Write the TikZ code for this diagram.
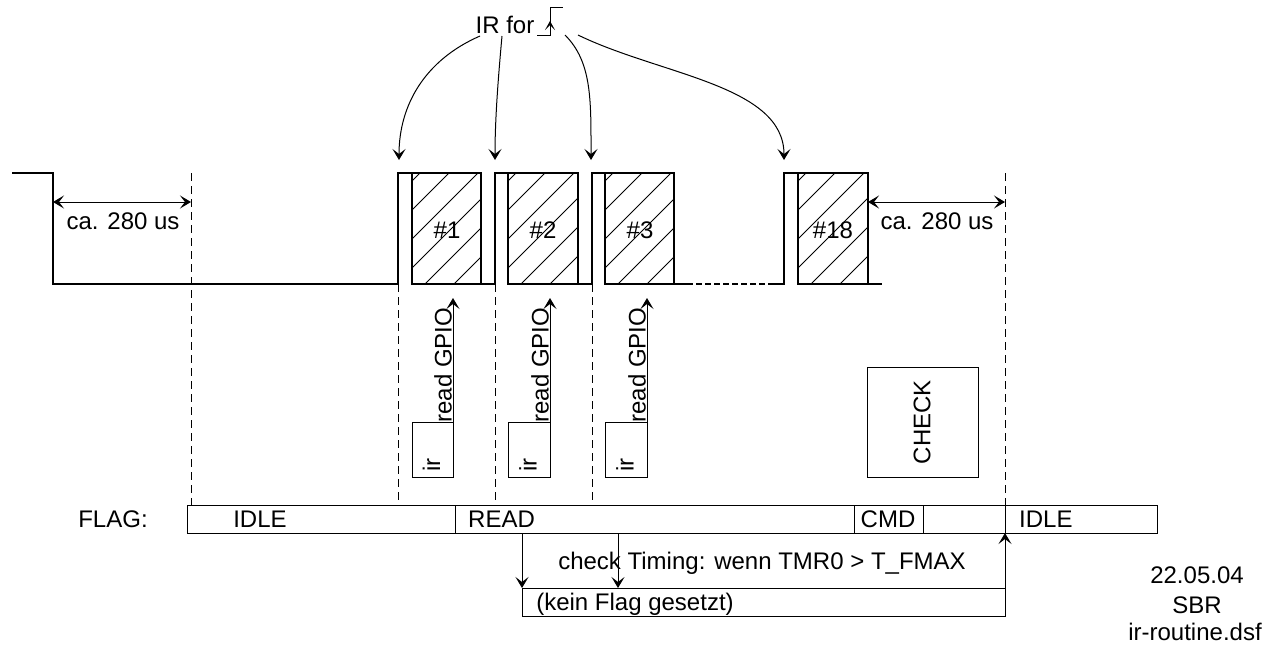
\documentclass[tikz,border=0pt]{standalone}
\usepackage{fontspec}
\setmainfont{Liberation Sans}
\usetikzlibrary{arrows.meta}
\newcommand\myhatch[2]{%
  \begin{scope}
    \clip (#1,173) rectangle (#2,284);
    \foreach \k in {0,...,7} \draw[hatchline] ({#1-111+\k*29+8},284) -- ++(111,-111);
  \end{scope}}
\begin{document}
\begin{tikzpicture}[x=1pt,y=-1pt,
  font=\fontsize{24}{28}\selectfont,
  sig/.style={line width=2pt},
  thinline/.style={line width=1pt},
  hatchline/.style={line width=0.8pt},
  dashline/.style={line width=1pt, dash pattern=on 8pt off 5pt},
  tip/.style={Stealth[length=11pt,width=13pt,inset=5pt]},
  arr/.style={line width=1pt,-{Stealth[length=11pt,width=13pt,inset=5pt]}},
  darr/.style={line width=1pt,{Stealth[length=11pt,width=13pt,inset=5pt]}-{Stealth[length=11pt,width=13pt,inset=5pt]}},
  txt/.style={inner sep=1pt}]
\useasboundingbox (0,0) rectangle (1282,646);

% ---- signal ----
\draw[sig] (12,173) -- (53,173) -- (53,284) -- (398,284) -- (398,173) -- (481,173) -- (481,284)
  -- (495,284) -- (495,173) -- (578,173) -- (578,284) -- (592,284) -- (592,173) -- (674,173)
  -- (674,284) -- (687,284);
\draw[sig, dash pattern=on 6pt off 3pt] (687,284) -- (770,284);
\draw[sig] (770,284) -- (784,284) -- (784,173) -- (868,173) -- (868,284) -- (882,284);

% hatched boxes
\myhatch{412}{481}
\myhatch{508}{578}
\myhatch{605}{674}
\myhatch{798}{868}
\draw[sig] (412,173) -- (412,284) -- (481,284);
\draw[sig] (508,173) -- (508,284) -- (578,284);
\draw[sig] (605,173) -- (605,284) -- (674,284);
\draw[sig] (798,173) -- (798,284) -- (868,284);
\node[txt] (b1) at (447,230) {\#1};
\node[txt] (b2) at (543,230) {\#2};
\node[txt] (b3) at (640,230) {\#3};
\node[txt] (b18) at (833,230) {\#18};

% ---- dashed guide lines ----
\draw[dashline] (191,173) -- (191,505);
\draw[dashline] (398,284) -- (398,505);
\draw[dashline] (495,284) -- (495,505);
\draw[dashline] (592,284) -- (592,505);
\draw[dashline] (1005,173) -- (1005,505);

% ---- ca. 280 us ----
\coordinate (la) at (53,202);
\coordinate (lb) at (191,202);
\draw[darr] (la) -- (lb);
\node[txt] (ca1) at (123,221) {ca. 280 us};
\coordinate (ra) at (868,202);
\coordinate (rb) at (1005,202);
\draw[darr] (ra) -- (rb);
\node[txt] (ca2) at (937,221) {ca. 280 us};

% ---- IR for ----
\node[txt] (ir) at (505,25) {IR for};
\draw[thinline] (537,35) -- (550,35) -- (550,7) -- (563,7);
\draw[thinline,-{Stealth[length=9pt,width=10pt,inset=5pt]}] (550,35) -- (550,21);
\coordinate (s1) at (480,36);
\coordinate (s2) at (502,36);
\coordinate (s3) at (565,35);
\coordinate (s4) at (578,35);
\coordinate (t1) at (399,160);
\coordinate (t2) at (495,160);
\coordinate (t3) at (591,160);
\coordinate (t4) at (784,160);
\draw[arr] (s1) .. controls (425,60) and (399,105) .. (t1);
\draw[arr] (s2) .. controls (498,80) and (495,120) .. (t2);
\draw[arr] (s3) .. controls (592,62) and (591,100) .. (t3);
\draw[arr] (s4) .. controls (660,75) and (784,85) .. (t4);

% ---- read GPIO / ir ----
\foreach \xl/\xr/\nm in {412/453/a, 508/550/b, 605/647/c}{
  \draw[thinline] (\xl,422) rectangle (\xr,477);
  \node[txt,rotate=90] (ir\nm) at ({(\xl+\xr)/2-1},465) {ir};
  \coordinate (g\nm1) at (\xr,422);
  \coordinate (g\nm2) at (\xr,298);
  \draw[arr] (g\nm1) -- (g\nm2);
  \node[txt,rotate=90,anchor=south] (rg\nm) at (\xr,365) {read GPIO};
}

% ---- CHECK ----
\draw[thinline] (867,367) rectangle (978,477);
\node[txt,rotate=90] (check) at (922,422) {CHECK};

% ---- FLAG bar ----
\node[txt] (flag) at (113,519) {FLAG:};
\draw[thinline] (187,505) rectangle (1157,533);
\draw[thinline] (455,505) -- (455,533);
\draw[thinline] (854,505) -- (854,533);
\draw[thinline] (923,505) -- (923,533);
\draw[thinline] (1005,505) -- (1005,533);
\node[txt] (idle1) at (260,519) {IDLE};
\node[txt,anchor=west] (read) at (467,519) {READ};
\node[txt] (cmd) at (888,519) {CMD};
\node[txt,anchor=west] (idle2) at (1018,519) {IDLE};

% ---- check timing ----
\coordinate (c1) at (522,533);
\coordinate (c1b) at (522,588);
\coordinate (c2) at (618,533);
\coordinate (c2b) at (618,588);
\coordinate (c3) at (1005,588);
\coordinate (c3b) at (1005,533);
\draw[arr] (c1) -- (c1b);
\draw[arr] (c2) -- (c2b);
\draw[thinline] (522,588) rectangle (1005,616);
\draw[arr] (c3) -- (c3b);
\node[txt] (chk) at (762,563) {check Timing: wenn TMR0 > T\_FMAX};
\node[txt] (kein) at (635,604) {(kein Flag gesetzt)};

% ---- footer ----
\node[txt] (date) at (1197,575) {22.05.04};
\node[txt] (sbr) at (1197,605) {SBR};
\node[txt] (file) at (1195,632) {ir-routine.dsf};
\end{tikzpicture}
\end{document}
